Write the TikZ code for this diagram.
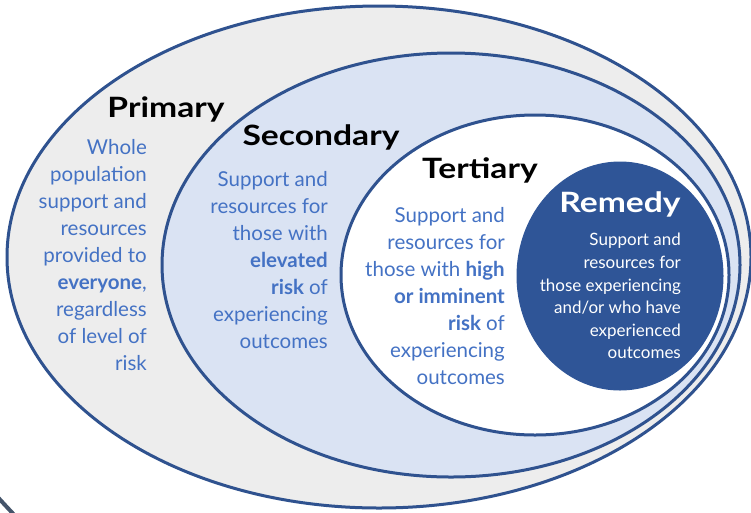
\documentclass[tikz,border=0pt]{standalone}
\usepackage{fontspec}
\setmainfont{Lato}
\newfontfamily\headfont[FakeStretch=1.2]{Lato}
\definecolor{edge}{HTML}{2F528F}
\definecolor{outerfill}{HTML}{EDEDED}
\definecolor{secfill}{HTML}{DAE3F3}
\definecolor{remfill}{HTML}{2F5597}
\definecolor{txtblue}{HTML}{4472C4}
\definecolor{slate}{HTML}{44546A}
\begin{document}
\begin{tikzpicture}[x=1pt,y=-1pt,
  ring/.style={draw=edge, line width=3pt},
  head/.style={font=\headfont\bfseries\fontsize{28}{30}\selectfont, text=black, inner sep=0pt, anchor=base},
  body/.style={font=\fontsize{20.5}{24}\selectfont, text=txtblue, inner sep=0pt, anchor=base east},
  rbody/.style={font=\fontsize{17}{20}\selectfont, text=white, inner sep=0pt, anchor=base east}]
\useasboundingbox (0,0) rectangle (751,512);
\fill[white] (0,0) rectangle (751,512);
\begin{scope}
\clip (0,0) rectangle (751,512);
\draw[slate, line width=4pt] (-6,493) .. controls (4,504) .. (19,520);
\draw[ring, fill=outerfill] (379,257) ellipse [x radius=372, y radius=251];
\draw[ring, fill=secfill] (451,265) ellipse [x radius=289, y radius=212];
\draw[ring, fill=white] (535,275) ellipse [x radius=194, y radius=160];
\draw[draw=remfill, fill=remfill, line width=1pt] (620,276) ellipse [x radius=103, y radius=114];
\end{scope}

\node[head] (hp) at (166,117) {Primary};
\node[head] (hs) at (321,145) {Secondary};
\node[head] (ht) at (480,178) {Tertiary};
\node[head, text=white] (hr) at (620,212) {Remedy};

\node[body] (p1) at (147,154) {Whole};
\node[body] (p2) at (147,181) {population};
\node[body] (p3) at (147,208) {support and};
\node[body] (p4) at (147,235) {resources};
\node[body] (p5) at (147,262) {provided to};
\node[body] (p6) at (147,289) {\textbf{everyone},};
\node[body] (p7) at (147,316) {regardless};
\node[body] (p8) at (147,343) {of level of};
\node[body] (p9) at (147,370) {risk};

\node[body] (s1) at (328,186) {Support and};
\node[body] (s2) at (328,213) {resources for};
\node[body] (s3) at (328,240) {those with};
\node[body] (s4) at (328,267) {\textbf{elevated}};
\node[body] (s5) at (328,294) {\textbf{risk} of};
\node[body] (s6) at (328,321) {experiencing};
\node[body] (s7) at (328,348) {outcomes};

\node[body] (t1) at (505,222) {Support and};
\node[body] (t2) at (505,249) {resources for};
\node[body] (t3) at (505,276) {those with \textbf{high}};
\node[body] (t4) at (505,303) {\textbf{or imminent}};
\node[body] (t5) at (505,330) {\textbf{risk} of};
\node[body] (t6) at (505,357) {experiencing};
\node[body] (t7) at (505,384) {outcomes};

\node[rbody] (r1) at (681,245) {Support and};
\node[rbody] (r2) at (681,268) {resources for};
\node[rbody] (r3) at (681,291) {those experiencing};
\node[rbody] (r4) at (681,313) {and/or who have};
\node[rbody] (r5) at (681,336) {experienced};
\node[rbody] (r6) at (681,358) {outcomes};
\end{tikzpicture}
\end{document}
